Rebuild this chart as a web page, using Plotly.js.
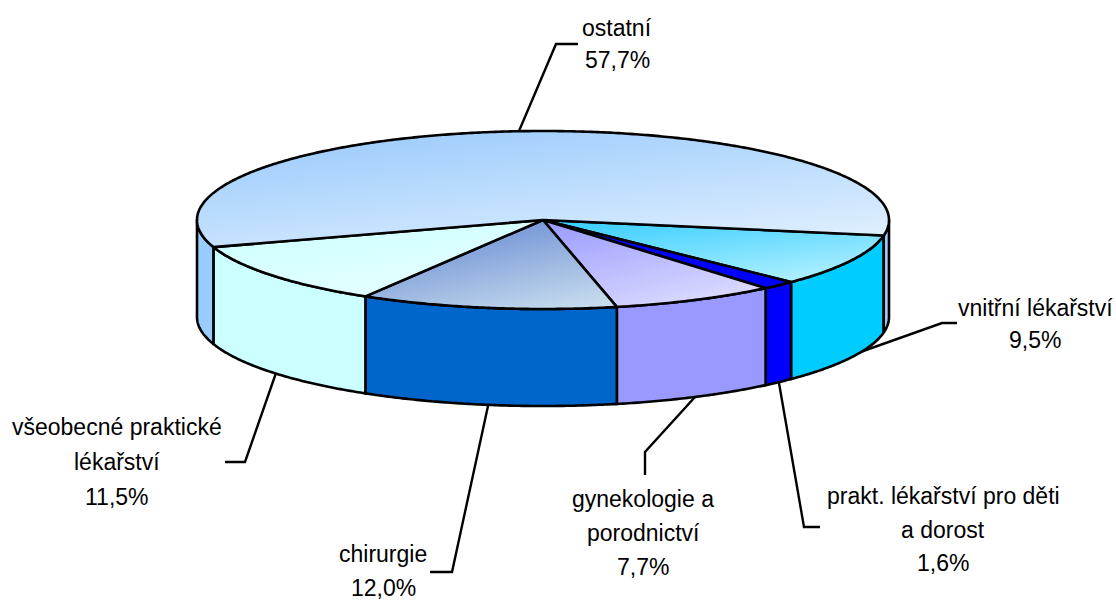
<!DOCTYPE html>
<html><head><meta charset="utf-8">
<script src="https://cdn.plot.ly/plotly-3.0.1.min.js"></script>
<style>html,body{margin:0;padding:0;background:#fff}#c{width:1116px;height:601px}</style>
</head><body><div id="c"></div>
<script>
// Data, clockwise from the right-hand edge of the pie
const categories = ["vnitřní lékařství","prakt. lékařství pro děti a dorost","gynekologie a porodnictví","chirurgie","všeobecné praktické lékařství","ostatní"];
const values = [9.5,1.6,7.7,12.0,11.5,57.7];
const labelLines = [["vnitřní lékařství"],["prakt. lékařství pro děti","a dorost"],["gynekologie a","porodnictví"],["chirurgie"],["všeobecné praktické","lékařství"],["ostatní"]];
const sideColors = ["#00CCFF","#0000FF","#9999FF","#0066CC","#CCFFFF","#99CCFF"];
const topRgbA = ["51,204,255","0,0,255","153,153,255","90,126,206","204,255,255","150,200,252"];
const topRgbB = ["190,244,255","0,0,255","228,228,255","205,226,240","232,255,255","228,242,255"];

// Projection of the tilted disc
const cx=543, cy=220, rx=346, ry=89, depth=97, startDeg=10;
const labelX=[1035,943,643,383,117,617];
const labelY=[308,496,499,554,427,28];
const labelStep=[32,33.5,34,34,35,32];
const leaders=["M852 355L942 323L957 323","M779 383L804 527L820 527","M695 397L645 452L645 475","M488 406L452 572L430 572","M276 373L245 462L225 462","M519 131L556 44L578 44"];
const blend=0.38;

const pt=(d,dz)=>[cx+rx*Math.cos(d*Math.PI/180), cy+ry*Math.sin(d*Math.PI/180)+dz];
function arc(a,b,dz){const out=[];const n=Math.max(2,Math.ceil(Math.abs(b-a)/0.5));for(let i=0;i<=n;i++)out.push(pt(a+(b-a)*i/n,dz));return out;}
const total=values.reduce((s,v)=>s+v,0);
let acc=startDeg; const ranges=values.map(v=>{const a=acc;acc+=v/total*360;return [a,acc];});
const traces=[];
const outline={color:'#000',width:2.6,simplify:false};
function poly(points,extra){const p=points.concat([points[0]]);traces.push(Object.assign({type:'scatter',mode:'lines',x:p.map(q=>q[0]),y:p.map(q=>q[1]),hoverinfo:'skip',showlegend:false},extra));}
function side(a,b,color){poly(arc(a,b,0).concat(arc(b,a,depth)),{fill:'toself',fillcolor:color,line:outline});}
ranges.forEach(([a,b],i)=>{
  if(b<=180) side(a,b,sideColors[i]);
  else { if(a<180) side(a,180,sideColors[i]); if(b>360) side(0,b-360,sideColors[i]); }
});
ranges.forEach(([a,b],i)=>{
  const pts=[[cx,cy]].concat(arc(a,b,0));
  const ys=pts.map(p=>p[1]), xs=pts.map(p=>p[0]);
  const noLine={width:0};
  poly(pts,{fill:'toself',line:noLine,fillgradient:{type:'vertical',start:Math.min(...ys),stop:Math.max(...ys),colorscale:[[0,`rgb(${topRgbA[i]})`],[1,`rgb(${topRgbB[i]})`]]}});
  poly(pts,{fill:'toself',line:noLine,fillgradient:{type:'horizontal',start:Math.min(...xs),stop:Math.max(...xs),colorscale:[[0,`rgba(${topRgbA[i]},${blend})`],[1,`rgba(${topRgbB[i]},${blend})`]]}});
  poly(pts,{line:outline});
});
const annotations=[];
labelLines.forEach((ls,i)=>{
  ls.concat([values[i].toFixed(1).replace('.',',')+'%']).forEach((t,j)=>{
    annotations.push({x:labelX[i],y:labelY[i]+j*labelStep[i],xref:'x',yref:'y',text:t,showarrow:false,xanchor:'center',yanchor:'middle',font:{family:'"Liberation Sans",Arial,sans-serif',size:23,color:'#000'}});
  });
});
const shapes=leaders.map(p=>({type:'path',path:p,xref:'x',yref:'y',layer:'below',line:{color:'#000',width:2.4}}));
Plotly.newPlot('c',traces,{width:1116,height:601,margin:{l:0,r:0,t:0,b:0},paper_bgcolor:'#fff',plot_bgcolor:'#fff',showlegend:false,
  xaxis:{range:[0,1116],visible:false,fixedrange:true},yaxis:{range:[601,0],visible:false,fixedrange:true},annotations,shapes},{staticPlot:true});
</script></body></html>
